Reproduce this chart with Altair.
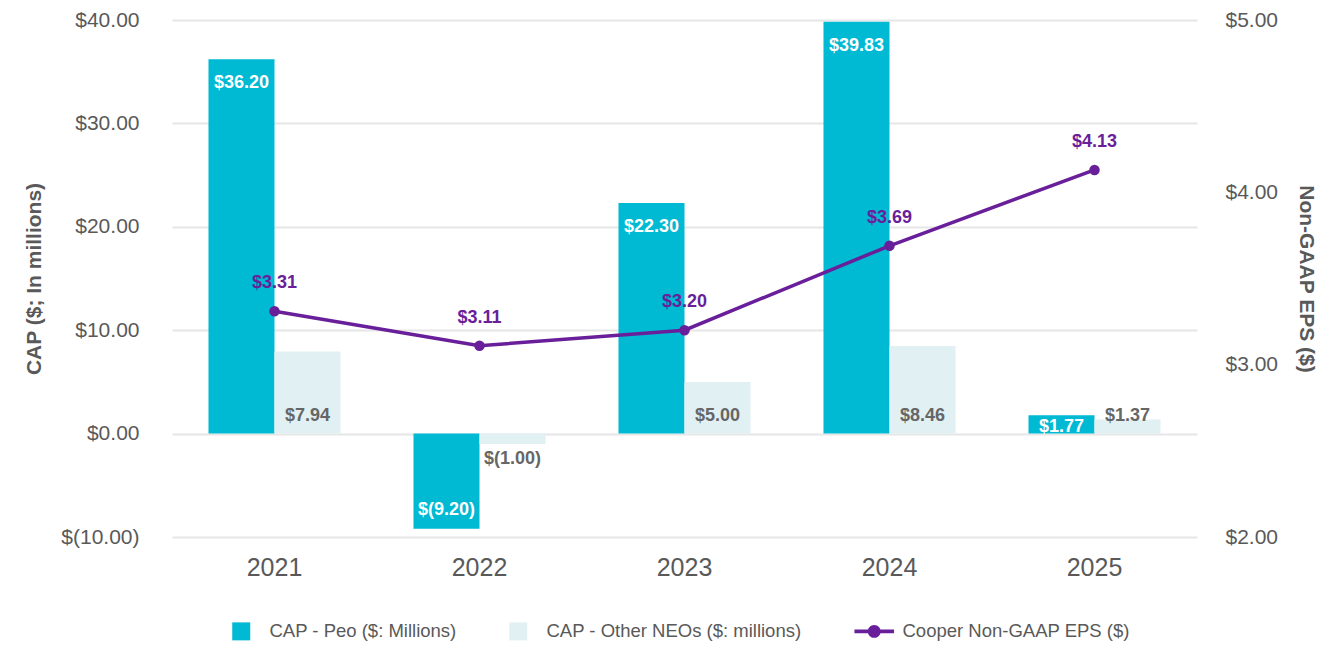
import altair as alt
import pandas as pd

years = ["2021", "2022", "2023", "2024", "2025"]
cap_peo = [36.20, -9.20, 22.30, 39.83, 1.77]
cap_other = [7.94, -1.00, 5.00, 8.46, 1.37]
eps = [3.31, 3.11, 3.20, 3.69, 4.13]

S_PEO = "CAP - Peo ($: Millions)"
S_OTH = "CAP - Other NEOs ($: millions)"
S_EPS = "Cooper Non-GAAP EPS ($)"

bars_df = pd.DataFrame(
    [{"year": y, "series": S_PEO, "value": v} for y, v in zip(years, cap_peo)]
    + [{"year": y, "series": S_OTH, "value": v} for y, v in zip(years, cap_other)]
)
line_df = pd.DataFrame({"year": years, "series": S_EPS, "eps": eps})

TEAL = "#00B9D3"
LIGHT = "#E1F0F3"
PURPLE = "#6A1F9A"
AX = "#595959"
FONT = "Liberation Sans"

money = "(datum.value < 0 ? '$(' + format(-datum.value, '.2f') + ')' : '$' + format(datum.value, '.2f'))"

x_enc = alt.X(
    "year:N",
    sort=years,
    scale=alt.Scale(paddingInner=0.356, paddingOuter=0.178),
    axis=alt.Axis(title=None, labelFontSize=25, labelColor=AX, labelFont=FONT,
                  ticks=False, domain=False, labelPadding=18, labelAngle=0),
)
xo_enc = alt.XOffset("series:N", scale=alt.Scale(domain=[S_PEO, S_OTH], paddingInner=0, paddingOuter=0))

line_shape = ("M-2.2,-0.2H2.2V0.2H-2.2Z"
              "M-0.72,0A0.72,0.72,0,1,1,0.72,0A0.72,0.72,0,1,1,-0.72,0Z")

color_enc = alt.Color(
    "series:N",
    scale=alt.Scale(domain=[S_PEO, S_OTH, S_EPS], range=[TEAL, LIGHT, PURPLE]),
    legend=alt.Legend(
        title=None, orient="none", direction="horizontal", legendX=60, legendY=602,
        labelFontSize=18.5, labelColor=AX, labelFont=FONT, labelLimit=500,
        symbolSize=324, labelOffset=19, columnPadding=52, padding=0,
        symbolType={"expr": f"datum.value === '{S_EPS}' ? '{line_shape}' : 'square'"},
        symbolFillColor={"expr": "scale('color', datum.value)"},
        symbolStrokeWidth=0,
        symbolOpacity=1,
    ),
)

y_left = alt.Y(
    "value:Q",
    scale=alt.Scale(domain=[-10, 40], nice=False, zero=False),
    axis=alt.Axis(
        title="CAP ($; In millions)", titleFontSize=21, titleFontWeight="bold",
        titleColor=AX, titleFont=FONT, titlePadding=16,
        values=[-10, 0, 10, 20, 30, 40], labelExpr=money,
        labelFontSize=21, labelColor=AX, labelFont=FONT, labelPadding=33,
        ticks=False, domain=False, grid=True, gridColor="#E6E6E6", gridWidth=2,
        orient="left",
    ),
)

bars = alt.Chart(bars_df).mark_bar().encode(
    x=x_enc, xOffset=xo_enc, y=y_left, color=color_enc,
)

bar_labels = alt.Chart(bars_df).transform_calculate(
    lpos=f"datum.series === '{S_PEO}' ? "
         "(abs(datum.value) < 5 ? datum.value / 3 : (datum.value > 0 ? datum.value - 2.3 : datum.value + 1.8)) : "
         "(datum.value > 0 ? 1.7 : datum.value - 1.45)",
    label="(datum.value < 0 ? '$(' + format(-datum.value, '.2f') + ')' : '$' + format(datum.value, '.2f'))",
).mark_text(fontSize=18, fontWeight="bold", font=FONT, baseline="middle", align="center").encode(
    x=alt.X("year:N", sort=years),
    xOffset=xo_enc,
    y=alt.Y("lpos:Q"),
    text="label:N",
    color=alt.condition(alt.datum.series == S_PEO, alt.value("white"), alt.value("#666666")),
)

y_right = alt.Y(
    "eps:Q",
    scale=alt.Scale(domain=[2, 5], nice=False, zero=False),
    axis=alt.Axis(
        title="Non-GAAP EPS ($)", titleFontSize=21, titleFontWeight="bold",
        titleColor=AX, titleFont=FONT, titlePadding=18,
        values=[2, 3, 4, 5], format="$.2f",
        labelFontSize=21, labelColor=AX, labelFont=FONT, labelPadding=28,
        ticks=False, domain=False, grid=False, orient="right",
    ),
)

line = alt.Chart(line_df).mark_line(
    strokeWidth=3.5, point=alt.OverlayMarkDef(size=110, filled=True, opacity=1)
).encode(
    x=alt.X("year:N", sort=years),
    y=y_right,
    color=alt.Color("series:N"),
)

line_labels = alt.Chart(line_df).transform_calculate(
    label="'$' + format(datum.eps, '.2f')"
).mark_text(fontSize=18, fontWeight="bold", font=FONT, color=PURPLE, dy=-28, baseline="middle").encode(
    x=alt.X("year:N", sort=years),
    y=alt.Y("eps:Q"),
    text="label:N",
)

chart = alt.layer(
    alt.layer(bars, bar_labels),
    alt.layer(line, line_labels),
).resolve_scale(y="independent").properties(
    width=1025, height=517,
    autosize=alt.AutoSizeParams(type="none"),
    padding={"left": 164, "top": 12, "right": 139, "bottom": 127},
    background="white",
).configure_view(stroke=None)

chart.save("out.html", embed_options={"renderer": "svg", "actions": False})
